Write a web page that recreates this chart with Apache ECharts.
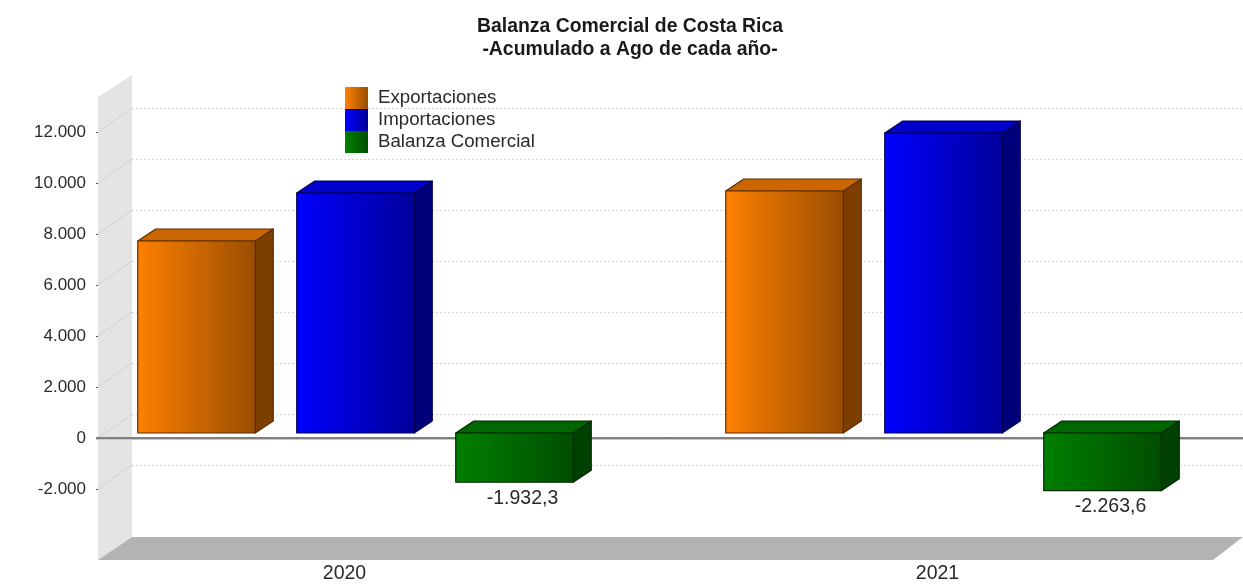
<!DOCTYPE html>
<html><head><meta charset="utf-8">
<style>html,body{margin:0;padding:0;background:#fff}#c{width:1243px;height:584px;filter:blur(0.6px)}</style>
<script src="https://cdn.jsdelivr.net/npm/echarts@6/dist/echarts.min.js"></script>
</head><body><div id="c"></div>
<script>
const years = ['2020', '2021'];
const exportaciones = [7530, 9490];
const importaciones = [9410, 11760];
const balanza = [-1932.3, -2263.6];
const balanzaLabels = ['-1.932,3', '-2.263,6'];
const yTicks = [-2000, 0, 2000, 4000, 6000, 8000, 10000, 12000];
const seriesNames = ['Exportaciones', 'Importaciones', 'Balanza Comercial'];
const FONT = '"Liberation Sans", Arial, sans-serif';
const palette = [
  {a:'#ff8000', b:'#994d00', top:'#cc6600', side:'#7d3f00', line:'#5a2e00'},
  {a:'#0000ff', b:'#000099', top:'#0000cc', side:'#00007a', line:'#000050'},
  {a:'#008000', b:'#004d00', top:'#006600', side:'#004000', line:'#002a00'}
];
const grad = p => new echarts.graphic.LinearGradient(0,0,1,0,[{offset:0,color:p.a},{offset:1,color:p.b}]);

const chart = echarts.init(document.getElementById('c'), null, {renderer:'canvas'});

function renderBackdrop(params, api) {
  const L = 98, R = 1243, BX = 34, BY = 24;
  const y = v => api.coord([0, v])[1];
  const top = y(13373), bot = y(-4784);
  const kids = [
    {type:'polygon', shape:{points:[[L,top],[L+BX,top-22],[L+BX,bot-23],[L,bot]]}, style:{fill:'#e4e4e4'}},
    {type:'polygon', shape:{points:[[L,bot],[L+BX,bot-23],[R,bot-23],[R-30,bot]]}, style:{fill:'#b3b3b3'}}
  ];
  yTicks.forEach(t => {
    const yy = Math.round(y(t));
    kids.push({type:'line', shape:{x1:L,y1:yy,x2:L+BX,y2:yy-BY}, style:{stroke:'#d2d2d2',lineWidth:1}});
    kids.push({type:'line', shape:{x1:L+BX,y1:yy-BY+.5,x2:R,y2:yy-BY+.5}, style:{stroke:'#d8d8d8',lineWidth:1.2,lineDash:[2,2]}});
  });
  const z = Math.round(y(0));
  kids.push({type:'line', shape:{x1:96,y1:z+1.5,x2:R,y2:z+1.5}, style:{stroke:'#c8c8c8',lineWidth:1}});
  kids.push({type:'line', shape:{x1:96,y1:z,x2:R,y2:z}, style:{stroke:'#808080',lineWidth:2}});
  return {type:'group', children:kids};
}

function barRenderer(slot, labels) {
  const p = palette[slot];
  return function (params, api) {
    const DX = 18, DY = 12, W = 117.5, LIFT = 5, STEP = 159;
    const cat = api.value(0), val = api.value(1);
    const c = api.coord([cat, val]), c0 = api.coord([cat, 0]);
    const x0 = c[0] + (slot - 1) * STEP - W / 2;
    const x1 = x0 + W;
    const yA = Math.min(c[1], c0[1]) - LIFT, yB = Math.max(c[1], c0[1]) - LIFT;
    const ln = {stroke:p.line, lineWidth:1.2, lineJoin:'round'};
    const kids = [
      {type:'polygon', shape:{points:[[x1,yA],[x1+DX,yA-DY],[x1+DX,yB-DY],[x1,yB]]}, style:Object.assign({fill:p.side},ln)},
      {type:'polygon', shape:{points:[[x0,yA],[x0+DX,yA-DY],[x1+DX,yA-DY],[x1,yA]]}, style:Object.assign({fill:p.top},ln)},
      {type:'rect', shape:{x:x0,y:yA,width:W,height:yB-yA}, style:Object.assign({fill:grad(p)},ln)}
    ];
    if (labels) {
      kids.push({type:'text', x:(x0+x1)/2+8, y:yB+16,
        style:{text:labels[cat], font:'19.5px '+FONT, fill:'#2a2a2a', align:'center', verticalAlign:'middle'}});
    }
    return {type:'group', children:kids};
  };
}

const sets = [exportaciones, importaciones, balanza];
const barSeries = sets.map((vals, i) => ({
  name: seriesNames[i], type:'custom', coordinateSystem:'cartesian2d',
  xAxisIndex:0, yAxisIndex:0, clip:false, z:5, silent:true,
  itemStyle:{color:grad(palette[i])},
  encode:{x:0,y:1},
  data: vals.map((v, k) => [k, v]),
  renderItem: barRenderer(i, i === 2 ? balanzaLabels : null)
}));

chart.setOption({
  animation:false,
  backgroundColor:'#fff',
  title:{text:'Balanza Comercial de Costa Rica\n-Acumulado a Ago de cada año-',
    left:625, top:10, textAlign:'center',
    textStyle:{fontFamily:FONT,fontSize:19.4,fontWeight:'bold',color:'#1a1a1a',lineHeight:23}},
  legend:{orient:'vertical', left:340, top:82, itemGap:0, itemWidth:23, itemHeight:22,
    icon:'rect', selectedMode:false, data:seriesNames,
    textStyle:{fontFamily:FONT,fontSize:18.7,color:'#2a2a2a',padding:[2,0,0,5]}},
  grid:[
    {left:61.5, width:1176, top:132, height:357},
    {left:48, width:1186, top:132, height:357}
  ],
  xAxis:[
    {gridIndex:0, type:'category', data:years, show:false},
    {gridIndex:1, type:'category', data:years, position:'bottom',
     axisLine:{show:false,onZero:false}, axisTick:{show:false},
     axisLabel:{margin:76,fontFamily:FONT,fontSize:19.5,color:'#2a2a2a'}}
  ],
  yAxis:[
    {gridIndex:0, type:'value', min:-2000, max:12000, interval:2000, offset:-36.5,
     axisLine:{show:false}, splitLine:{show:false},
     axisTick:{show:true,length:2,lineStyle:{color:'#555'}},
     axisLabel:{margin:12,fontFamily:FONT,fontSize:17,color:'#2a2a2a',
       formatter:v => String(v).replace(/(\d)(\d{3})$/, '$1.$2')}},
    {gridIndex:1, type:'value', min:-2000, max:12000, interval:2000, show:false, splitLine:{show:false}}
  ],
  series:[
    {type:'custom', name:'fondo', coordinateSystem:'cartesian2d', xAxisIndex:0, yAxisIndex:0,
     clip:false, z:1, silent:true, data:[[0,0]], encode:{x:0,y:1}, renderItem:renderBackdrop}
  ].concat(barSeries)
});
</script></body></html>
